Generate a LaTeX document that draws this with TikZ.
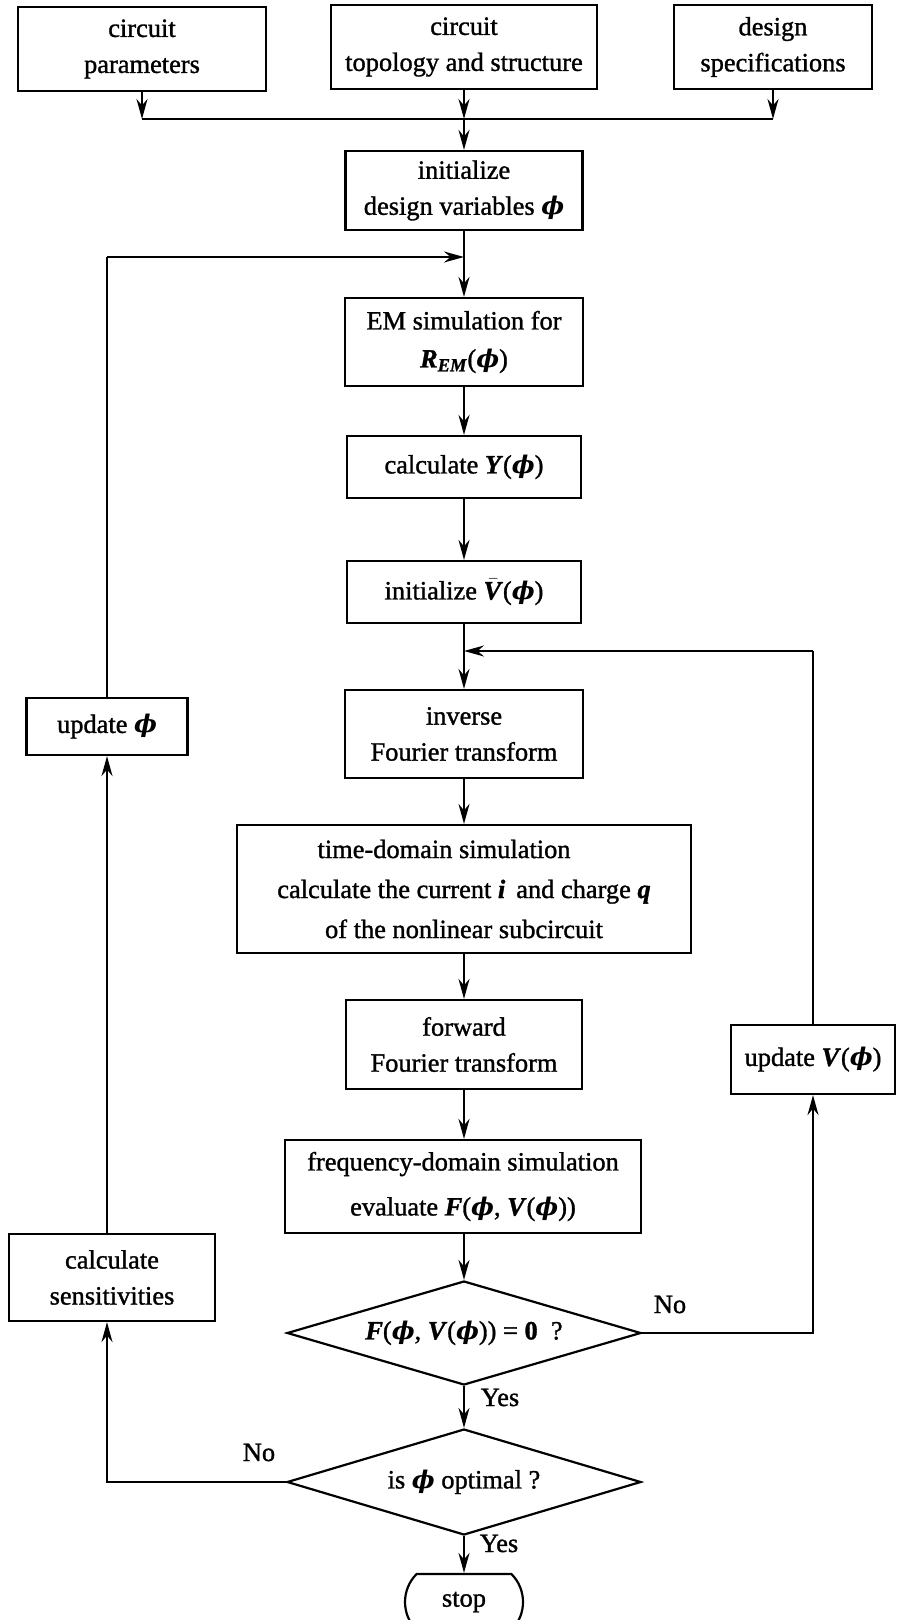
\documentclass[tikz,border=0pt]{standalone}
\usepackage{amsmath}
\usepackage{fontspec}
\setmainfont{Liberation Serif}[FakeBold=1.2]
\newfontfamily\phifont{DejaVu Serif}[Scale=0.92]
\usetikzlibrary{arrows.meta,shapes.geometric,shapes.misc}
\newcommand{\bphi}{{\phifont\bfseries\itshape ϕ}}
\newcommand{\bit}[1]{\textbf{\textit{#1}}}
\begin{document}
\begin{tikzpicture}[x=0.5pt,y=-0.5pt,
  every node/.style={font=\fontsize{13.2}{18}\selectfont},
  box/.style={draw, line width=1.1pt, align=center, inner sep=2pt},
  dec/.style={draw, diamond, aspect=3.4, line width=1.1pt, inner sep=0pt, minimum width=177pt, minimum height=52pt},
  ln/.style={line width=1pt},
  arr/.style={line width=1pt, -{Stealth[length=10pt,width=5.5pt]}},
  lbl/.style={anchor=base, inner sep=0pt}]
\useasboundingbox (0,0) rectangle (897,1620);

% top inputs
\node[box, minimum width=124pt, minimum height=42pt] (cp) at (142,49) {circuit\\parameters};
\node[box, minimum width=133pt, minimum height=42pt] (ct) at (464,47) {circuit\\topology and structure};
\node[box, minimum width=99pt, minimum height=42pt] (ds) at (773,47) {design\\specifications};
\coordinate (jn) at (464,119);

% main column
\node[box, minimum width=118.5pt, minimum height=39.5pt] (init) at (464,190.5) {initialize\\design variables \bphi};
\node[box, minimum width=119pt, minimum height=44pt] (em) at (464,342) {EM simulation for\\[1pt]\bit{R\textsubscript{EM}}(\bphi)};
\node[box, minimum width=117pt, minimum height=31pt] (cy) at (464,467) {calculate \bit{Y}(\bphi)};
\node[box, minimum width=117pt, minimum height=31pt] (iv) at (464,592) {initialize $\bar{\mbox{\bit{V}}}$(\bphi)};
\node[box, minimum width=119pt, minimum height=44pt] (inv) at (464,734) {inverse\\Fourier transform};
\node[box, minimum width=227pt, minimum height=64pt] (td) at (464,889) {time-domain simulation\hspace*{20pt}\\[2pt]calculate the current \bit{i}\, and charge \bit{q}\\[2pt]of the nonlinear subcircuit};
\node[box, minimum width=118pt, minimum height=44.5pt] (fwd) at (464,1044.5) {forward\\Fourier transform};
\node[box, minimum width=178pt, minimum height=46.5pt] (fd) at (463,1186.5) {frequency-domain simulation\\[4.5pt]evaluate \bit{F}(\bphi, \bit{V}(\bphi))};
\node[dec] (d1) at (464,1333) {\bit{F}(\bphi, \bit{V}(\bphi)) = \textbf{0}\enspace ?};
\node[dec, minimum height=53pt] (d2) at (464,1482) {is \bphi\ optimal ?};
\node[draw, rounded rectangle, rounded rectangle arc length=90, line width=1.1pt, minimum width=59pt, minimum height=28pt, inner sep=0pt] (stop) at (464,1602) {stop};

% side boxes
\node[box, minimum width=80.5pt, minimum height=28.5pt] (uphi) at (107,726.5) {update \bphi};
\node[box, minimum width=103pt, minimum height=43.5pt] (cs) at (112,1277.5) {calculate\\sensitivities};
\node[box, minimum width=82pt, minimum height=34.5pt] (uv) at (813,1059.5) {update \bit{V}(\bphi)};

\coordinate (fb) at (464,257);
\coordinate (lp) at (464,651);

% connectors at top
\draw[arr] (cp.south) -- (cp.south |- jn);
\draw[arr] (ct.south) -- (ct.south |- jn);
\draw[arr] (ds.south) -- (ds.south |- jn);
\draw[ln] (cp.south |- jn) -- (ds.south |- jn);
\draw[arr] (jn) -- (init.north);

% main flow
\draw[arr] (init.south) -- (em.north);
\draw[arr] (em.south) -- (cy.north);
\draw[arr] (cy.south) -- (iv.north);
\draw[arr] (iv.south) -- (inv.north);
\draw[arr] (inv.south) -- (td.north);
\draw[arr] (td.south) -- (fwd.north);
\draw[arr] (fwd.south) -- (fd.north -| fwd.south);
\draw[arr] (fd.south -| d1.north) -- (d1.north);
\draw[arr] (d1.south) -- (d2.north);
\draw[arr] (d2.south) -- (stop.north);

% inner loop (right)
\draw[arr] (d1.east) -- (d1.east -| uv.south) -- (uv.south);
\draw[ln] (uv.north) -- (uv.north |- lp);
\draw[arr] (uv.north |- lp) -- (lp);

% outer loop (left)
\draw[arr] (d2.west) -- (d2.west -| uphi.south) -- (uphi.south |- cs.south);
\draw[arr] (uphi.south |- cs.north) -- (uphi.south);
\draw[ln] (uphi.north) -- (uphi.north |- fb);
\draw[arr] (uphi.north |- fb) -- (fb);

% labels
\node[lbl] (no1) at (670,1313) {No};
\node[lbl] (yes1) at (500,1406) {Yes};
\node[lbl] (no2) at (259,1461) {No};
\node[lbl] (yes2) at (499,1552) {Yes};
\end{tikzpicture}
\end{document}
